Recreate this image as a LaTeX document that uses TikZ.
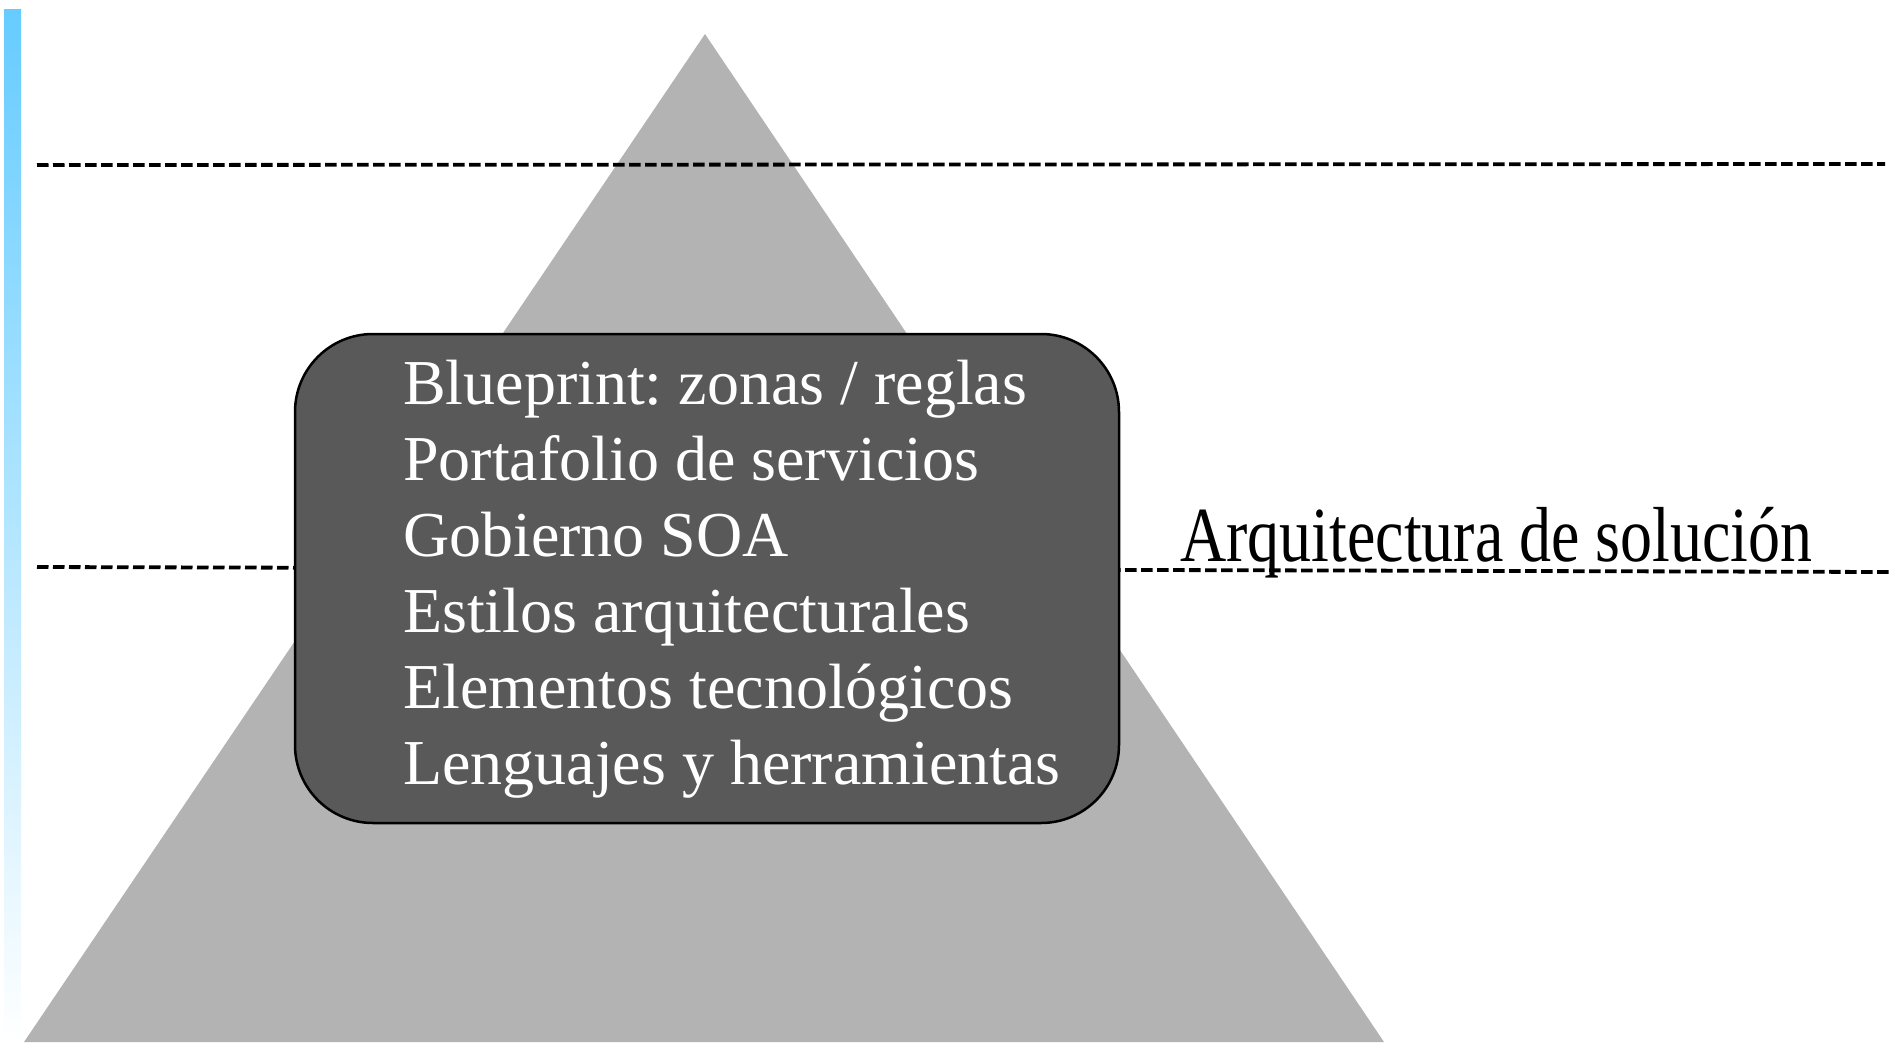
\documentclass[tikz,border=0pt]{standalone}
\usepackage{fontspec}
\usepackage{graphicx}
\setmainfont{Liberation Serif}
\frenchspacing
\definecolor{pyr}{HTML}{B3B3B3}
\definecolor{boxfill}{HTML}{595959}
\definecolor{barblue}{HTML}{66CCFF}
\begin{document}
\begin{tikzpicture}[x=1pt,y=-1pt,
  dashline/.style={draw=black,line width=3.8pt,dash pattern=on 11.5pt off 4.5pt},
  itemtext/.style={anchor=base west,inner sep=0pt,text=white,font=\fontsize{64}{75}\selectfont},
  sidetext/.style={anchor=base west,inner sep=0pt,text=black,font=\fontsize{78}{90}\selectfont},
  bigbox/.style={draw=black,line width=2.5pt,fill=boxfill,rounded corners=78pt,inner sep=0pt}
]
\useasboundingbox (0,0) rectangle (1899,1042);
% gradient bar
\shade[top color=barblue,bottom color=white] (4,9) rectangle (21,1042);
% pyramid
\coordinate (apex) at (705,34);
\coordinate (bl) at (24,1042);
\coordinate (br) at (1384,1042);
\fill[pyr] (apex) -- (br) -- (bl) -- cycle;
% dashed lines
\coordinate (t1) at (37,165);
\coordinate (t2) at (1885,164);
\coordinate (m1) at (37,567);
\coordinate (m2) at (1890,572);
\draw[dashline] (t1) -- (t2);
\draw[dashline] (m1) -- (m2);
% box
\node[bigbox,minimum width=824pt,minimum height=489pt] (box) at (707,578.5) {};
% items
\node[itemtext] (i1) at (403,404) {Blueprint: zonas / reglas};
\node[itemtext] (i2) at (403,480) {Portafolio de servicios};
\node[itemtext] (i3) at (403,556) {Gobierno SOA};
\node[itemtext] (i4) at (403,632) {Estilos arquitecturales};
\node[itemtext] (i5) at (403,708) {Elementos tecnológicos};
\node[itemtext] (i6) at (403,784) {Lenguajes y herramientas};
% side label
\node[sidetext] (lbl) at (1180,561) {\scalebox{0.82}[1]{Arquitectura de solución}};
\end{tikzpicture}
\end{document}
